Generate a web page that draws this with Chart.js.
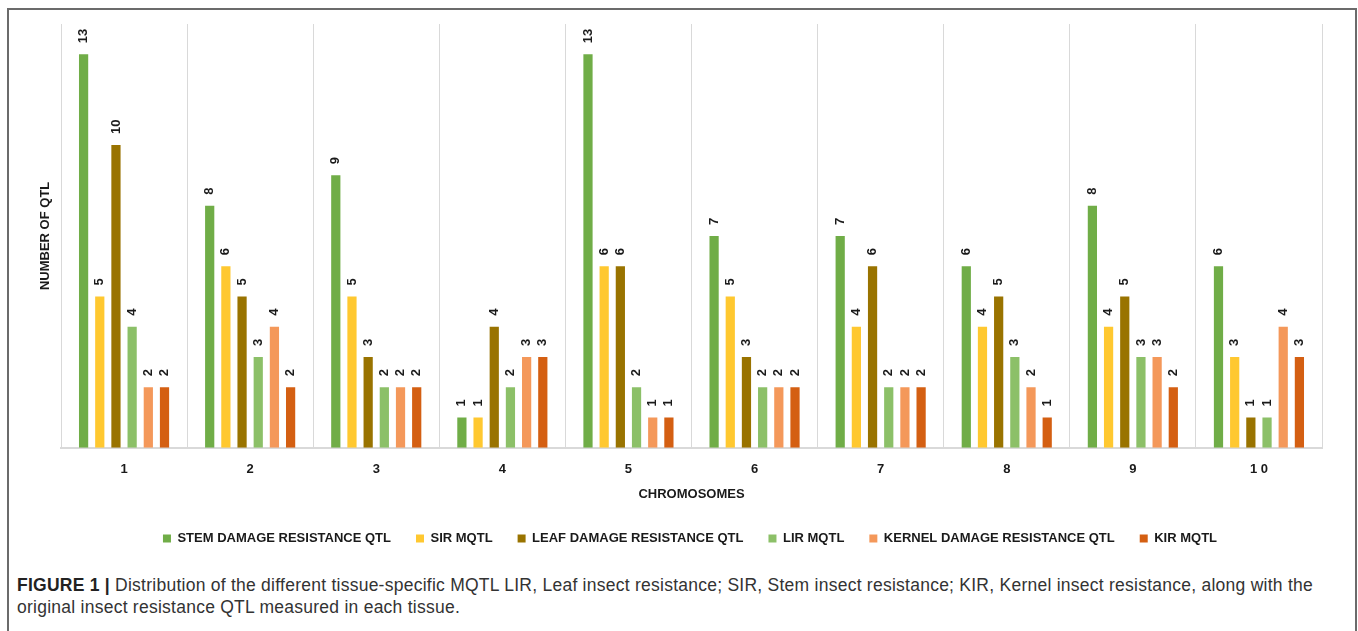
<!DOCTYPE html>
<html>
<head>
<meta charset="utf-8">
<script src="https://cdn.jsdelivr.net/npm/chart.js@4"></script>
<style>
    body { margin: 0; background: #fff; width: 1358px; height: 631px; overflow: hidden; position: relative; }
    #frame { position: absolute; left: 7px; top: 8px; width: 1346px; height: 640px; border: 2px solid #6b6b6b; border-bottom: none; }
    #chartBox { position: absolute; left: 8px; top: 9px; width: 1347px; height: 548px; }
    #caption { position: absolute; left: 17px; top: 574px; font-family: "Liberation Sans", Arial, sans-serif; font-size: 17.5px; letter-spacing: 0.25px; line-height: 22px; color: #333; white-space: nowrap; }
    #caption b { color: #222; }
</style>
</head>
<body>
<div id="frame"></div>
<div id="chartBox"><canvas id="qtlChart"></canvas></div>
<div id="caption"><b>FIGURE 1 |</b> Distribution of the different tissue-specific MQTL LIR, Leaf insect resistance; SIR, Stem insect resistance; KIR, Kernel insect resistance, along with the<br>original insect resistance QTL measured in each tissue.</div>
<script>
// Chromosomes on the x axis
const chromosomes = ['1', '2', '3', '4', '5', '6', '7', '8', '9', '1 0'];

// Number of QTL per chromosome
const stemQtl   = [13, 8, 9, 1, 13, 7, 7, 6, 8, 6];
const sirMqtl   = [5, 6, 5, 1, 6, 5, 4, 4, 4, 3];
const leafQtl   = [10, 5, 3, 4, 6, 3, 6, 5, 5, 1];
const lirMqtl   = [4, 3, 2, 2, 2, 2, 2, 3, 3, 1];
const kernelQtl = [2, 4, 2, 3, 1, 2, 2, 2, 3, 4];
const kirMqtl   = [2, 2, 2, 3, 1, 2, 2, 1, 2, 3];

const seriesNames = [
    'STEM DAMAGE RESISTANCE QTL',
    'SIR MQTL',
    'LEAF DAMAGE RESISTANCE QTL',
    'LIR MQTL',
    'KERNEL DAMAGE RESISTANCE QTL',
    'KIR MQTL'
];
const seriesColors = ['#70ad47', '#ffc830', '#997300', '#8cc068', '#f4985a', '#d45f12'];

const fontFamily = '"Liberation Sans", Arial, sans-serif';

// Rotated value labels above each bar
const barLabels = {
    id: 'barLabels',
    afterDatasetsDraw(chart) {
        const ctx = chart.ctx;
        ctx.save();
        ctx.font = 'bold 13px ' + fontFamily;
        ctx.fillStyle = '#1a1a1a';
        ctx.textAlign = 'left';
        ctx.textBaseline = 'middle';
        chart.data.datasets.forEach((ds, i) => {
            chart.getDatasetMeta(i).data.forEach((bar, j) => {
                ctx.save();
                ctx.translate(bar.x, bar.y - 11);
                ctx.rotate(-Math.PI / 2);
                ctx.fillText(String(ds.data[j]), 0, 0);
                ctx.restore();
            });
        });
        ctx.restore();
    }
};

document.addEventListener('DOMContentLoaded', () => {
    const allSeries = [stemQtl, sirMqtl, leafQtl, lirMqtl, kernelQtl, kirMqtl];

    const chartData = {
        labels: chromosomes,
        datasets: allSeries.map((values, i) => ({
            label: seriesNames[i],
            data: values,
            backgroundColor: seriesColors[i],
            borderWidth: 0,
            categoryPercentage: 0.77,
            barPercentage: 0.57
        }))
    };

    const ctx = document.getElementById('qtlChart').getContext('2d');
    new Chart(ctx, {
        type: 'bar',
        data: chartData,
        plugins: [barLabels],
        options: {
            responsive: true,
            maintainAspectRatio: false,
            animation: false,
            layout: {
                // left padding also keeps the legend centred under the plot
                padding: { left: 50, right: 33, top: 15, bottom: 2 }
            },
            plugins: {
                tooltip: { enabled: false },
                legend: {
                    position: 'bottom',
                    labels: {
                        boxWidth: 8,
                        boxHeight: 8,
                        padding: 25,
                        color: '#1a1a1a',
                        font: { family: fontFamily, size: 13, weight: 'bold' }
                    }
                }
            },
            scales: {
                x: {
                    grid: { color: '#d9d9d9', lineWidth: 1, drawTicks: false, offset: true },
                    border: { color: '#d9d9d9', width: 2 },
                    ticks: {
                        padding: 14,
                        color: '#1a1a1a',
                        font: { family: fontFamily, size: 13, weight: 'bold' }
                    },
                    title: {
                        display: true,
                        text: 'CHROMOSOMES',
                        color: '#1a1a1a',
                        padding: { top: -5, bottom: 5 },
                        font: { family: fontFamily, size: 13, weight: 'bold' }
                    }
                },
                y: {
                    min: 0,
                    max: 14,
                    grid: { display: false, drawTicks: false, tickLength: 0 },
                    border: { display: false },
                    ticks: { display: false },
                    title: {
                        display: true,
                        text: 'NUMBER OF QTL',
                        color: '#1a1a1a',
                        padding: { top: -20, bottom: 7.4 },
                        font: { family: fontFamily, size: 13, weight: 'bold' }
                    }
                }
            }
        }
    });
});
</script>
</body>
</html>
